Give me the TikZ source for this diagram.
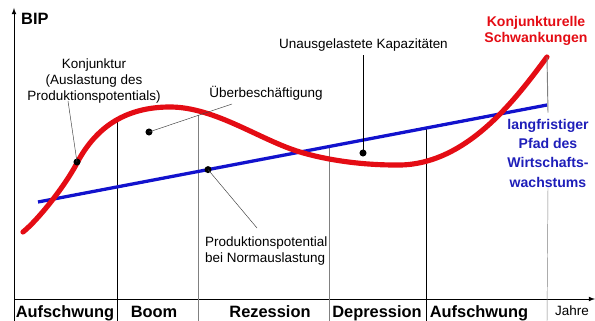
\documentclass[tikz,border=0pt]{standalone}
\usepackage{fontspec}
\setmainfont{Liberation Sans}
\usetikzlibrary{calc,arrows}

\definecolor{konjrot}{RGB}{228,12,20}
\definecolor{pfadblau}{RGB}{18,18,205}
\definecolor{textblau}{RGB}{30,30,185}

\begin{document}
\begin{tikzpicture}[x=0.03cm,y=-0.03cm,
    txt/.style={font=\fontsize{11.5}{13.6}\selectfont, align=center, inner sep=0pt},
    fett/.style={font=\fontsize{12}{14}\bfseries\selectfont, align=center, inner sep=0pt},
    phase/.style={font=\fontsize{14}{16}\bfseries\selectfont, anchor=base, inner sep=0pt},
    punkt/.style={circle, fill=black, inner sep=0pt, minimum size=6pt},
    leit/.style={black!75, thin}]
    \useasboundingbox (0,0) rectangle (595,321);

    % Achsen
    \draw [-latex, thick] (14,321) -- (14,8);
    \draw [-latex, thick] (14,299) -- (595,299);
    \node [font=\fontsize{14}{16}\bfseries\selectfont, anchor=west, inner sep=0pt] (bip) at (21,19) {BIP};

    % Phasengrenzen
    \draw [black] (117,118) -- (117,321);
    \draw [gray] (198,115) -- (198,321);
    \draw [gray] (329,146) -- (329,321);
    \draw [black] (426,127) -- (426,321);

    % Wachstumspfad und Konjunktur
    \coordinate (b1) at (38,202);
    \coordinate (b2) at (547,105);
    \draw [pfadblau, line width=2.8pt] (b1) -- (b2);
    \coordinate (r1) at (23,232);
    \coordinate (r2) at (547,57);
    \draw [konjrot, line width=4.4pt, line cap=round] (r1)
        .. controls (38,220) and (65,186) .. (77,163)
        .. controls (97,125) and (128,107) .. (170,107)
        .. controls (215,107) and (260,140) .. (300,152)
        .. controls (330,161) and (365,165) .. (395,165)
        .. controls (465,167) and (515,100) .. (r2);

    % Beschriftungen
    \node [txt] (konj) at (94,81) {Konjunktur\\(Auslastung des\\Produktionspotentials)};
    \node [txt] (ueber) at (266,93) {Überbeschäftigung};
    \node [txt, anchor=east] (unaus) at (448,45) {Unausgelastete Kapazitäten};
    \node [fett, konjrot] (schw) at (536,31) {Konjunkturelle\\Schwankungen};
    \node [fett, textblau, font=\fontsize{12}{16.5}\bfseries\selectfont] (pfad) at (548,153) {langfristiger\\Pfad des\\Wirtschafts-\\wachstums};
    \node [txt, align=left, anchor=west] (prod) at (205,251) {Produktionspotential\\bei Normauslastung};

    % Punkte und Hinweislinien
    \node [punkt] (p1) at (77,162) {};
    \node [punkt] (p2) at (149,132) {};
    \node [punkt] (p3) at ($(b1)!0.334!(b2)$) {};
    \node [punkt] (p4) at (363,153) {};
    \coordinate (k1) at (68,101);
    \coordinate (k2) at (232,104);
    \coordinate (k3) at (363,55);
    \coordinate (k4) at (257,228);
    \draw [leit] (p1.center) -- (k1);
    \draw [leit] (p2.center) -- (k2);
    \draw [black, thick] (p4.center) -- (k3);
    \draw [leit] (p3.center) -- (k4);
    \draw [gray, thick] (r2) -- ($(pfad.north)+(0,-6)$);
    \draw [gray] (pfad.south) -- (547,321);

    % Phasen
    \node [phase] (auf1) at (65,317) {Aufschwung};
    \node [phase] (boom) at (154,317) {Boom};
    \node [phase] (rez) at (270,317) {Rezession};
    \node [phase] (dep) at (377,317) {Depression};
    \node [phase] (auf2) at (479,317) {Aufschwung};
    \node [font=\fontsize{11.5}{14}\selectfont, anchor=base, inner sep=0pt] (jahre) at (572,316) {Jahre};
\end{tikzpicture}
\end{document}
